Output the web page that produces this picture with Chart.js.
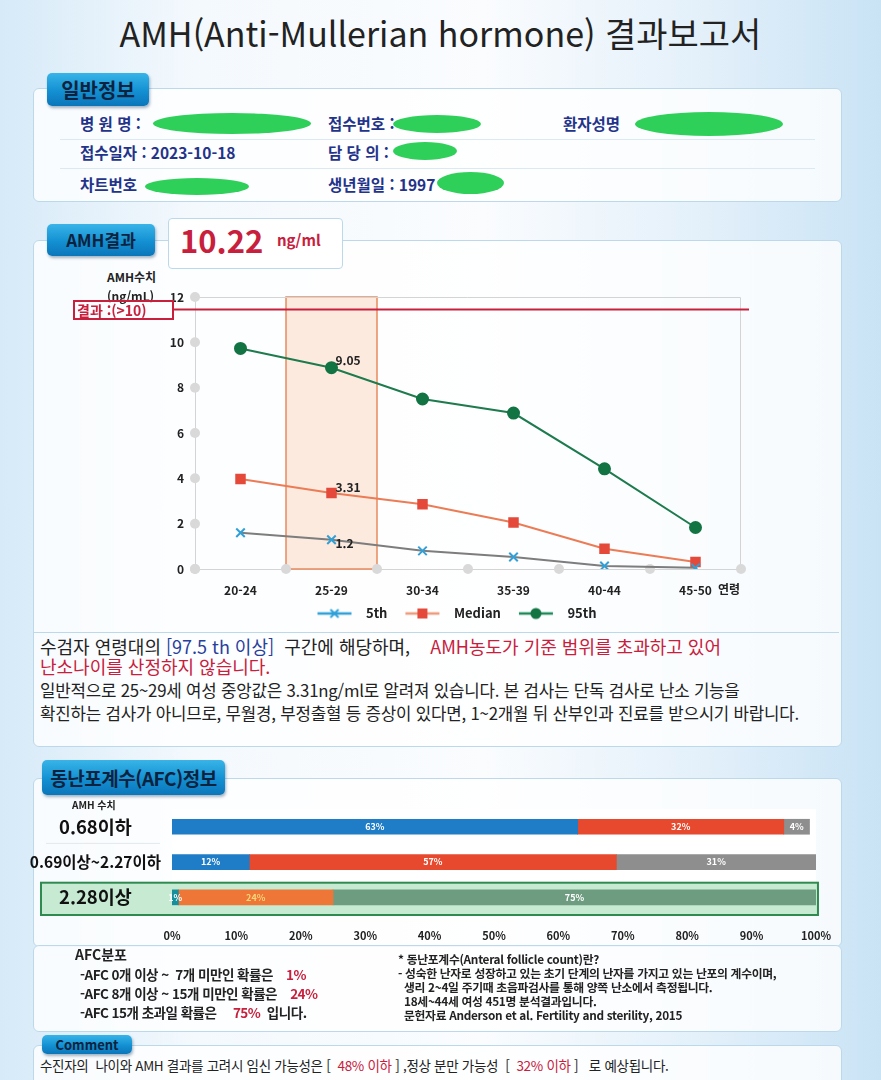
<!DOCTYPE html>
<html lang="ko">
<head>
<meta charset="utf-8">
<script src="https://cdn.jsdelivr.net/npm/chart.js@4.4.1/dist/chart.umd.min.js"></script>
<style>
  html, body { margin: 0; padding: 0; }
  body {
    width: 881px; height: 1080px; position: relative; overflow: hidden;
    font-family: "Noto Sans CJK KR", "Noto Sans", sans-serif; color: #222;
    background: linear-gradient(90deg, #d6eaf8 0%, #f4f9fd 22%, #fafcfe 55%, #e3f0fa 80%, #c9e3f5 100%);
  }
  .abs { position: absolute; white-space: nowrap; }
  .panel { position: absolute; background: rgba(255,255,255,0.8); border: 1px solid #bcd9ec; border-radius: 6px; }
  .tab {
    position: absolute; border-radius: 5px; color: #0c2340; font-weight: 700;
    background: linear-gradient(180deg, #38b4e8 0%, #1390d2 55%, #0b76ba 100%);
    box-shadow: 1px 2px 3px rgba(0,40,80,0.35); text-align: center;
  }
  .lbl { color: #23338a; font-weight: 700; font-size: 15.5px; }
  .blob { position: absolute; background: #2fd05a; border-radius: 50%; }
  .red { color: #c8203c; }
  .blue { color: #28409c; }
  .sep { position: absolute; height: 1px; background: #dbe9f4; }
</style>
</head>
<body>

<div class="abs" style="left:0;top:8px;width:881px;text-align:center;font-size:34px;">AMH(Anti-Mullerian hormone) 결과보고서</div>

<!-- 일반정보 -->
<div class="panel" style="left:33px;top:88px;width:807px;height:112px;"></div>
<div class="tab" style="left:47px;top:73px;width:102px;height:33px;line-height:33px;font-size:20px;">일반정보</div>
<div class="sep" style="left:60px;top:139px;width:755px;"></div>
<div class="sep" style="left:60px;top:168px;width:755px;"></div>
<div class="abs lbl" style="left:80px;top:112px;">병 원 명 :</div>
<div class="abs lbl" style="left:328px;top:112px;">접수번호 :</div>
<div class="abs lbl" style="left:563px;top:112px;">환자성명</div>
<div class="abs lbl" style="left:80px;top:141px;">접수일자 : 2023-10-18</div>
<div class="abs lbl" style="left:328px;top:141px;">담 당 의 :</div>
<div class="abs lbl" style="left:80px;top:173px;">차트번호</div>
<div class="abs lbl" style="left:328px;top:173px;">생년월일 : 1997</div>
<div class="blob" style="left:153px;top:113px;width:158px;height:21px;"></div>
<div class="blob" style="left:393px;top:115px;width:88px;height:18px;"></div>
<div class="blob" style="left:635px;top:112px;width:148px;height:24px;"></div>
<div class="blob" style="left:393px;top:142px;width:64px;height:18px;"></div>
<div class="blob" style="left:145px;top:178px;width:104px;height:17px;"></div>
<div class="blob" style="left:437px;top:172px;width:67px;height:22px;"></div>

<!-- AMH 결과 -->
<div class="panel" style="left:33px;top:240px;width:807px;height:505px;"></div>
<div class="tab" style="left:47px;top:224px;width:108px;height:32px;line-height:32px;font-size:17px;">AMH결과</div>
<div class="abs" style="left:168px;top:218px;width:173px;height:49px;background:#fff;border:1px solid #bcd9ec;border-radius:4px;"></div>
<div class="abs red" style="left:180px;top:217px;font-size:31px;font-weight:700;">10.22</div>
<div class="abs red" style="left:277px;top:229px;font-size:15px;font-weight:700;">ng/ml</div>

<div style="position:absolute;left:165px;top:265px;width:595px;height:365px;"><canvas id="lineChart"></canvas></div>
<div class="abs" style="left:107px;top:268px;font-size:12px;font-weight:700;">AMH수치</div>
<div class="abs" style="left:107px;top:287px;font-size:12px;font-weight:700;">(ng/mL)</div>
<div class="abs red" style="left:73px;top:300px;width:95px;height:16px;border:2px solid #c8203c;font-size:14px;font-weight:700;line-height:16px;padding-left:2px;">결과 :(&gt;10)</div>
<div class="abs" style="left:718px;top:580px;font-size:12px;font-weight:700;">연령</div>

<div class="sep" style="left:34px;top:632px;width:805px;background:#bcd9ec;"></div>
<div class="abs" style="left:40px;top:633px;font-size:18px;">수검자 연령대의 <span class="blue">[97.5 th 이상]</span>&nbsp; 구간에 해당하며, &nbsp;&nbsp; <span class="red">AMH농도가 기준 범위를 초과하고 있어</span></div>
<div class="abs red" style="left:40px;top:653px;font-size:18px;">난소나이를 산정하지 않습니다.</div>
<div class="abs" style="left:40px;top:678px;font-size:16.8px;letter-spacing:-0.2px;">일반적으로 25~29세 여성 중앙값은 3.31ng/ml로 알려져 있습니다. 본 검사는 단독 검사로 난소 기능을</div>
<div class="abs" style="left:40px;top:701px;font-size:16.8px;letter-spacing:-0.2px;">확진하는 검사가 아니므로, 무월경, 부정출혈 등 증상이 있다면, 1~2개월 뒤 산부인과 진료를 받으시기 바랍니다.</div>

<!-- AFC -->
<div class="panel" style="left:33px;top:778px;width:807px;height:167px;"></div>
<div class="tab" style="left:42px;top:760px;width:183px;height:35px;line-height:35px;font-size:19px;letter-spacing:-0.5px;">동난포계수(AFC)정보</div>
<div style="position:absolute;left:30px;top:795px;width:807px;height:156px;"><canvas id="barChart"></canvas></div>
<div class="abs" style="left:72px;top:797px;font-size:10px;font-weight:700;">AMH 수치</div>

<div class="panel" style="left:33px;top:945px;width:807px;height:85px;"></div>
<div class="abs" style="left:75px;top:944px;font-size:14px;font-weight:700;">AFC분포</div>
<div class="abs" style="left:80px;top:964px;font-size:13.5px;font-weight:700;letter-spacing:-0.5px;">-AFC 0개 이상 ~&nbsp; 7개 미만인 확률은 &nbsp;&nbsp;&nbsp;<span class="red">1%</span></div>
<div class="abs" style="left:80px;top:983px;font-size:13.5px;font-weight:700;letter-spacing:-0.5px;">-AFC 8개 이상 ~ 15개 미만인 확률은 &nbsp;&nbsp;&nbsp;<span class="red">24%</span></div>
<div class="abs" style="left:80px;top:1002px;font-size:13.5px;font-weight:700;letter-spacing:-0.5px;">-AFC 15개 초과일 확률은 &nbsp;&nbsp;&nbsp;&nbsp;<span class="red">75%</span>&nbsp; 입니다.</div>
<div class="abs" style="left:398px;top:952px;font-size:11.8px;font-weight:700;letter-spacing:-0.3px;line-height:14px;">
  * 동난포계수(Anteral follicle count)란?<br>
  - 성숙한 난자로 성장하고 있는 초기 단계의 난자를 가지고 있는 난포의 계수이며,<br>
  &nbsp;&nbsp;생리 2~4일 주기때 초음파검사를 통해 양쪽 난소에서 측정됩니다.<br>
  &nbsp;&nbsp;18세~44세 여성 451명 분석결과입니다.<br>
  &nbsp;&nbsp;문헌자료 Anderson et al. Fertility and sterility, 2015
</div>

<div class="panel" style="left:33px;top:1045px;width:807px;height:60px;"></div>
<div class="tab" style="left:42px;top:1035px;width:90px;height:19px;line-height:19px;font-size:13px;">Comment</div>
<div class="abs" style="left:40px;top:1055px;font-size:13.5px;letter-spacing:-0.3px;">수진자의&nbsp; 나이와 AMH 결과를 고려시 임신 가능성은 [ &nbsp;<span class="red">48% 이하</span> ] ,정상 분만 가능성&nbsp; [ &nbsp;<span class="red">32% 이하</span> ] &nbsp; 로 예상됩니다.</div>

<script>
// ---- line chart data ----
const ageGroups = ['20-24', '25-29', '30-34', '35-39', '40-44', '45-50']
const p5Values = [1.6, 1.29, 0.8, 0.53, 0.13, 0.05]
const medianValues = [3.97, 3.35, 2.86, 2.05, 0.89, 0.31]
const p95Values = [9.73, 8.88, 7.5, 6.88, 4.42, 1.83]
const yTickValues = [0, 2, 4, 6, 8, 10, 12]
const resultValue = 11.45
const patientGroupIndex = 1
const p5Label = '1.2'
const medianLabel = '3.31'
const p95Label = '9.05'

// ---- AFC bar chart data ----
const amhRanges = ['0.68이하', '0.69이상~2.27이하', '2.28이상']
const afcLow = [63, 12, 1]     // AFC 0~7
const afcMid = [32, 57, 24]    // AFC 8~15
const afcHigh = [4, 31, 75]    // AFC 15 초과
const percentTicks = [0, 10, 20, 30, 40, 50, 60, 70, 80, 90, 100]
const patientRangeIndex = 2

Chart.defaults.font.family = "'Noto Sans CJK KR', 'Noto Sans', sans-serif"
Chart.defaults.color = '#222'
Chart.defaults.animation = false

// small legend icon: a line with the marker on it
const legendIcon = (lineColor, markColor, shape) => {
    const c = document.createElement('canvas')
    c.width = 50
    c.height = 14
    const g = c.getContext('2d')
    g.strokeStyle = lineColor
    g.lineWidth = 2.5
    g.beginPath(); g.moveTo(8, 7); g.lineTo(42, 7); g.stroke()
    g.fillStyle = markColor
    g.strokeStyle = markColor
    if (shape === 'rect') {
        g.fillRect(20, 2, 10, 10)
    } else if (shape === 'circle') {
        g.beginPath(); g.arc(25, 7, 5.5, 0, Math.PI * 2); g.fill()
    } else {
        g.lineWidth = 2
        g.beginPath(); g.moveTo(21, 3); g.lineTo(29, 11); g.moveTo(29, 3); g.lineTo(21, 11); g.stroke()
    }
    return c
}

const lineExtras = {
    id: 'lineExtras',
    beforeDatasetsDraw(chart) {
        const { ctx, chartArea, scales } = chart
        const x = scales.x
        const band = (chartArea.right - chartArea.left) / ageGroups.length
        // highlighted age band
        const bx = x.getPixelForValue(patientGroupIndex) - band / 2
        ctx.save()
        ctx.fillStyle = 'rgba(252, 214, 192, 0.5)'
        ctx.fillRect(bx, chartArea.top, band, chartArea.bottom - chartArea.top)
        ctx.strokeStyle = '#e98a5c'
        ctx.lineWidth = 1.5
        ctx.strokeRect(bx, chartArea.top, band, chartArea.bottom - chartArea.top)
        // frame top + right
        ctx.strokeStyle = '#d4d4d4'
        ctx.lineWidth = 1
        ctx.beginPath()
        ctx.moveTo(chartArea.left, chartArea.top + 0.5)
        ctx.lineTo(chartArea.right - 0.5, chartArea.top + 0.5)
        ctx.lineTo(chartArea.right - 0.5, chartArea.bottom)
        ctx.stroke()
        // gray dots on the axes
        ctx.fillStyle = '#d9d9d9'
        yTickValues.forEach(v => {
            ctx.beginPath(); ctx.arc(chartArea.left, scales.y.getPixelForValue(v), 5, 0, Math.PI * 2); ctx.fill()
        })
        for (let i = 0; i <= ageGroups.length; i++) {
            ctx.beginPath(); ctx.arc(chartArea.left + i * band, chartArea.bottom, 5, 0, Math.PI * 2); ctx.fill()
        }
        ctx.restore()
    },
    afterDatasetsDraw(chart) {
        const { ctx, chartArea, scales } = chart
        ctx.save()
        // result line
        const ry = scales.y.getPixelForValue(resultValue)
        ctx.strokeStyle = '#c8203c'
        ctx.lineWidth = 2
        ctx.beginPath(); ctx.moveTo(chartArea.left - 23, ry); ctx.lineTo(chartArea.right + 8, ry); ctx.stroke()
        // value labels at the patient age group
        ctx.font = "bold 12px 'Noto Sans CJK KR'"
        ctx.fillStyle = '#222'
        ctx.textAlign = 'left'
        ctx.textBaseline = 'middle'
        const px = scales.x.getPixelForValue(patientGroupIndex)
        ctx.fillText(p95Label, px + 4, scales.y.getPixelForValue(p95Values[patientGroupIndex]) - 7)
        ctx.fillText(medianLabel, px + 4, scales.y.getPixelForValue(medianValues[patientGroupIndex]) - 6)
        ctx.fillText(p5Label, px + 4, scales.y.getPixelForValue(p5Values[patientGroupIndex]) + 4)
        ctx.restore()
    }
}

const lineTarget = document.querySelector('#lineChart')
const amhLineChart = new Chart(lineTarget, {
    type: 'line',
    data: {
        labels: ageGroups,
        datasets: [{
            label: '5th',
            data: p5Values,
            borderColor: '#7d7d7d',
            borderWidth: 2,
            pointStyle: 'crossRot',
            pointRadius: 6,
            pointBorderWidth: 2,
            pointBorderColor: '#2fa0d8',
            legendIcon: legendIcon('#2fa0d8', '#2fa0d8', 'cross')
        }, {
            label: 'Median',
            data: medianValues,
            borderColor: '#ec7c55',
            borderWidth: 2,
            pointStyle: 'rect',
            pointRadius: 6,
            pointBackgroundColor: '#e4493a',
            pointBorderColor: '#e4493a',
            legendIcon: legendIcon('#ef9a78', '#e4493a', 'rect')
        }, {
            label: '95th',
            data: p95Values,
            borderColor: '#1d7b4d',
            borderWidth: 2,
            pointStyle: 'circle',
            pointRadius: 5.5,
            pointBackgroundColor: '#127443',
            pointBorderColor: '#127443',
            legendIcon: legendIcon('#1c8a58', '#127443', 'circle')
        }]
    },
    options: {
        responsive: true,
        maintainAspectRatio: false,
        layout: { padding: { top: 32, right: 19, left: 0, bottom: 0 } },
        plugins: {
            tooltip: { enabled: false },
            legend: {
                position: 'bottom',
                labels: {
                    usePointStyle: true,
                    pointStyleWidth: 50,
                    padding: 10,
                    font: { size: 13, weight: 'bold' },
                    generateLabels: chart => chart.data.datasets.map((ds, i) => ({
                        text: ds.label,
                        pointStyle: ds.legendIcon,
                        fillStyle: 'transparent',
                        strokeStyle: 'transparent',
                        lineWidth: 0,
                        fontColor: '#222',
                        datasetIndex: i
                    }))
                }
            }
        },
        scales: {
            x: {
                offset: true,
                grid: { display: false },
                border: { color: '#d4d4d4' },
                ticks: { font: { size: 12, weight: 'bold' }, padding: 6 },
                afterFit: scale => { scale.height = 28 }
            },
            y: {
                min: 0,
                max: 12,
                afterBuildTicks: scale => { scale.ticks = yTickValues.map(v => ({ value: v })) },
                grid: { display: false },
                border: { color: '#d4d4d4' },
                ticks: { font: { size: 12, weight: 'bold' }, padding: 3 },
                afterFit: scale => { scale.width = 30 }
            }
        }
    },
    plugins: [lineExtras]
})

// ---- AFC stacked bars ----
const rowTint = (base, tint) => ctx => ctx.dataIndex === patientRangeIndex ? tint : base

const barExtras = {
    id: 'barExtras',
    beforeDraw(chart) {
        const { ctx, chartArea, scales } = chart
        const band = (chartArea.bottom - chartArea.top) / amhRanges.length
        const cy = scales.y.getPixelForValue(patientRangeIndex)
        ctx.save()
        ctx.fillStyle = '#ffffff'
        ctx.fillRect(chartArea.left, chartArea.top, chartArea.right - chartArea.left, chartArea.bottom - chartArea.top)
        // faint separator under first row label
        ctx.strokeStyle = '#e4e8ec'
        ctx.beginPath()
        ctx.moveTo(16, scales.y.getPixelForValue(0) + band / 2 - 1)
        ctx.lineTo(chartArea.left - 12, scales.y.getPixelForValue(0) + band / 2 - 1)
        ctx.stroke()
        // green patient row
        ctx.fillStyle = '#c6ead2'
        ctx.fillRect(10, cy - band / 2 + 3, chartArea.right + 2 - 10, band - 3)
        ctx.restore()
    },
    afterDatasetsDraw(chart) {
        const { ctx, chartArea, scales } = chart
        const band = (chartArea.bottom - chartArea.top) / amhRanges.length
        ctx.save()
        // percent labels
        ctx.font = "bold 9px 'Noto Sans CJK KR'"
        ctx.textAlign = 'center'
        ctx.textBaseline = 'middle'
        chart.data.datasets.forEach((ds, di) => {
            chart.getDatasetMeta(di).data.forEach((bar, i) => {
                const w = Math.abs(bar.x - bar.base)
                ctx.fillStyle = (i === patientRangeIndex && di === 1) ? '#f7d77a' : '#ffffff'
                ctx.fillText(ds.data[i] + '%', bar.base + w / 2, bar.y)
            })
        })
        // green frame around the patient row
        const cy = scales.y.getPixelForValue(patientRangeIndex)
        ctx.strokeStyle = '#2f8a50'
        ctx.lineWidth = 2
        ctx.strokeRect(11, cy - band / 2 + 3, chartArea.right + 1 - 10, band - 3)
        ctx.restore()
    }
}

const barTarget = document.querySelector('#barChart')
const afcBarChart = new Chart(barTarget, {
    type: 'bar',
    data: {
        labels: amhRanges,
        datasets: [
            { label: 'AFC 0~7', data: afcLow, backgroundColor: rowTint('#1f7cc6', '#178e9c'), barThickness: 15 },
            { label: 'AFC 8~15', data: afcMid, backgroundColor: rowTint('#e6492d', '#ee7636'), barThickness: 15 },
            { label: 'AFC >15', data: afcHigh, backgroundColor: rowTint('#8e8e8e', '#6e9c80'), barThickness: 15 }
        ]
    },
    options: {
        indexAxis: 'y',
        responsive: true,
        maintainAspectRatio: false,
        layout: { padding: { top: 9, right: 0, left: 0, bottom: 0 } },
        plugins: { legend: { display: false }, tooltip: { enabled: false } },
        scales: {
            x: {
                stacked: true,
                min: 0,
                max: 100,
                afterBuildTicks: scale => { scale.ticks = percentTicks.map(v => ({ value: v })) },
                grid: { display: false },
                border: { display: false },
                ticks: { font: { size: 11, weight: 'bold' }, padding: 6, callback: v => v + '%' },
                afterFit: scale => { scale.height = 36 }
            },
            y: {
                stacked: true,
                grid: { display: false },
                border: { display: false },
                ticks: {
                    font: c => ({ size: c.index === 1 ? 15.5 : 18.5, weight: 'bold' }),
                    crossAlign: 'center',
                    color: '#111'
                },
                afterFit: scale => { scale.width = 142 }
            }
        }
    },
    plugins: [barExtras]
})
</script>
</body>
</html>
